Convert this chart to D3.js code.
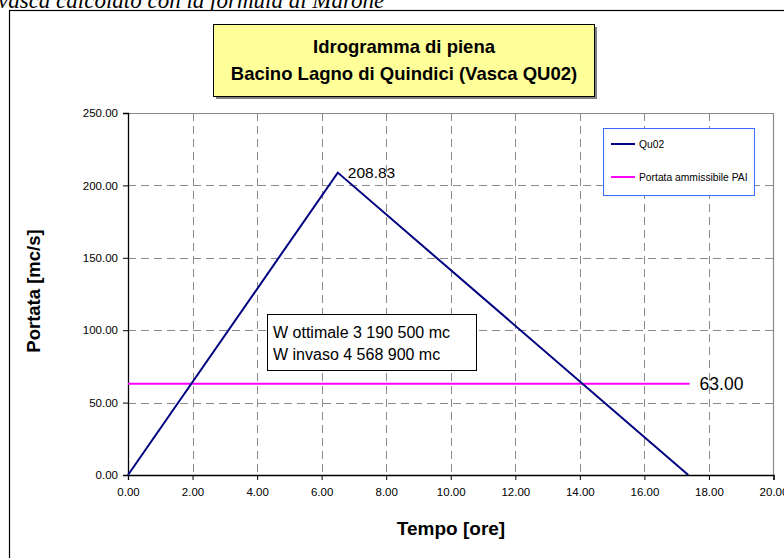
<!DOCTYPE html>
<html>
<head>
<meta charset="utf-8">
<script src="https://cdn.jsdelivr.net/npm/d3@7"></script>
<style>
  html, body { margin: 0; padding: 0; background: #fff; }
  svg { display: block; }
</style>
</head>
<body>
<svg id="chart" width="784" height="558"></svg>
<script>
// Hydrograph vertices: time [h] and discharge [m3/s]
const hydroTime = [0, 6.5, 17.36];
const hydroFlow = [0, 208.83, 0];
// Admissible PAI discharge
const paiTime = [0, 17.4];
const paiFlow = [63, 63];
const xTicks = [0, 2, 4, 6, 8, 10, 12, 14, 16, 18, 20];
const yTicks = [0, 50, 100, 150, 200, 250];
const seriesNames = ["Qu02", "Portata ammissibile PAI"];
const seriesColors = ["#000080", "#FF00FF"];
const titleLines = ["Idrogramma di piena", "Bacino Lagno di Quindici (Vasca QU02)"];
const noteLines = ["W ottimale 3 190 500 mc", "W invaso 4 568 900 mc"];

const svg = d3.select("#chart");
const font = "Arial, 'Liberation Sans', sans-serif";

// Caption line of the surrounding document, clipped at top edge
svg.append("text")
  .attr("x", -2).attr("y", 8)
  .attr("font-family", "'Liberation Serif', 'Times New Roman', serif")
  .attr("font-style", "italic")
  .attr("font-size", 23)
  .attr("fill", "#000")
  .text("vasca calcolato con la formula di Marone");

// Chart frame
svg.append("rect")
  .attr("x", 9.5).attr("y", 10.5)
  .attr("width", 800).attr("height", 600)
  .attr("fill", "#fff").attr("stroke", "#000").attr("stroke-width", 1.2);

const plot = { left: 128, right: 773.5, top: 113, bottom: 475 };
const x = d3.scaleLinear().domain([0, 20]).range([plot.left, plot.right]);
const y = d3.scaleLinear().domain([0, 250]).range([plot.bottom, plot.top]);

// Grid
const grid = svg.append("g").attr("stroke", "#8a8a8a").attr("stroke-width", 1)
  .attr("stroke-dasharray", "8,5");
grid.selectAll("line.v").data(xTicks.filter(d => d > 0 && d < 20)).enter()
  .append("line")
  .attr("x1", d => Math.round(x(d)) + 0.5).attr("x2", d => Math.round(x(d)) + 0.5)
  .attr("y1", plot.top).attr("y2", plot.bottom);
grid.selectAll("line.h").data(yTicks.filter(d => d > 0 && d < 250)).enter()
  .append("line")
  .attr("y1", d => Math.round(y(d)) + 0.5).attr("y2", d => Math.round(y(d)) + 0.5)
  .attr("x1", plot.left).attr("x2", plot.right);

// Plot area border (top and right)
svg.append("path")
  .attr("d", `M${plot.left},${plot.top + 0.5}H${plot.right}V${plot.bottom}`)
  .attr("fill", "none").attr("stroke", "#8a8a8a").attr("stroke-width", 1.2);

// Axes
const fmt = d3.format(".2f");
const xAxis = svg.append("g")
  .attr("transform", `translate(0,${plot.bottom})`)
  .call(d3.axisBottom(x).tickValues(xTicks).tickFormat(fmt).tickSizeOuter(0).tickSize(5).tickPadding(8));
const yAxis = svg.append("g")
  .attr("transform", `translate(${plot.left},0)`)
  .call(d3.axisLeft(y).tickValues(yTicks).tickFormat(fmt).tickSizeOuter(0).tickSize(5).tickPadding(5));
[xAxis, yAxis].forEach(a => {
  a.select(".domain").attr("stroke", "#000").attr("stroke-width", 1.3);
  a.selectAll(".tick line").attr("stroke", "#000");
  a.selectAll(".tick text").attr("font-family", font).attr("font-size", 11.5).attr("fill", "#000");
});

// Axis titles
svg.append("text")
  .attr("x", 451).attr("y", 535)
  .attr("text-anchor", "middle")
  .attr("font-family", font).attr("font-weight", "bold").attr("font-size", 19)
  .text("Tempo [ore]");
svg.append("text")
  .attr("transform", "translate(40,291) rotate(-90)")
  .attr("text-anchor", "middle")
  .attr("font-family", font).attr("font-weight", "bold").attr("font-size", 18.5)
  .text("Portata [mc/s]");

// Series
const line = d3.line().x(d => x(d[0])).y(d => y(d[1]));
const hydro = hydroTime.map((t, i) => [t, hydroFlow[i]]);
const pai = paiTime.map((t, i) => [t, paiFlow[i]]);
svg.append("path").datum(pai).attr("d", line)
  .attr("fill", "none").attr("stroke", seriesColors[1]).attr("stroke-width", 2);
svg.append("path").datum(hydro).attr("d", line)
  .attr("fill", "none").attr("stroke", seriesColors[0]).attr("stroke-width", 2);

// Value labels
svg.append("text")
  .attr("x", x(hydroTime[1]) + 10).attr("y", y(hydroFlow[1]) + 5)
  .attr("font-family", font).attr("font-size", 15.5)
  .text(fmt(hydroFlow[1]));
svg.append("text")
  .attr("x", x(paiTime[1]) + 10).attr("y", y(paiFlow[1]) + 6)
  .attr("font-family", font).attr("font-size", 17.5)
  .text(fmt(paiFlow[1]));

// Volume note box
const note = svg.append("g");
note.append("rect")
  .attr("x", 267.5).attr("y", 314.5).attr("width", 209).attr("height", 56)
  .attr("fill", "#fff").attr("stroke", "#000").attr("stroke-width", 1);
note.selectAll("text").data(noteLines).enter().append("text")
  .attr("x", 273).attr("y", (d, i) => 338 + i * 22)
  .attr("font-family", font).attr("font-size", 16)
  .text(d => d);

// Legend
const legend = svg.append("g");
legend.append("rect")
  .attr("x", 603.5).attr("y", 128.5).attr("width", 151).attr("height", 67)
  .attr("fill", "#fff").attr("stroke", "#3a6cff").attr("stroke-width", 1);
seriesNames.forEach((name, i) => {
  const ly = 144 + i * 33;
  legend.append("line")
    .attr("x1", 611).attr("x2", 635).attr("y1", ly).attr("y2", ly)
    .attr("stroke", seriesColors[i]).attr("stroke-width", 2);
  legend.append("text")
    .attr("x", 639).attr("y", ly + 3.5)
    .attr("font-family", font).attr("font-size", 10.3)
    .text(name);
});

// Title box with shadow
svg.append("rect")
  .attr("x", 216).attr("y", 27).attr("width", 381).attr("height", 72)
  .attr("fill", "#808080");
svg.append("rect")
  .attr("x", 213.5).attr("y", 24.5).attr("width", 381).attr("height", 72)
  .attr("fill", "#FFFF99").attr("stroke", "#000").attr("stroke-width", 1);
svg.selectAll("text.title").data(titleLines).enter().append("text")
  .attr("class", "title")
  .attr("x", 404).attr("y", (d, i) => 53 + i * 27)
  .attr("text-anchor", "middle")
  .attr("font-family", font).attr("font-weight", "bold").attr("font-size", 18.5)
  .text(d => d);
</script>
</body>
</html>
